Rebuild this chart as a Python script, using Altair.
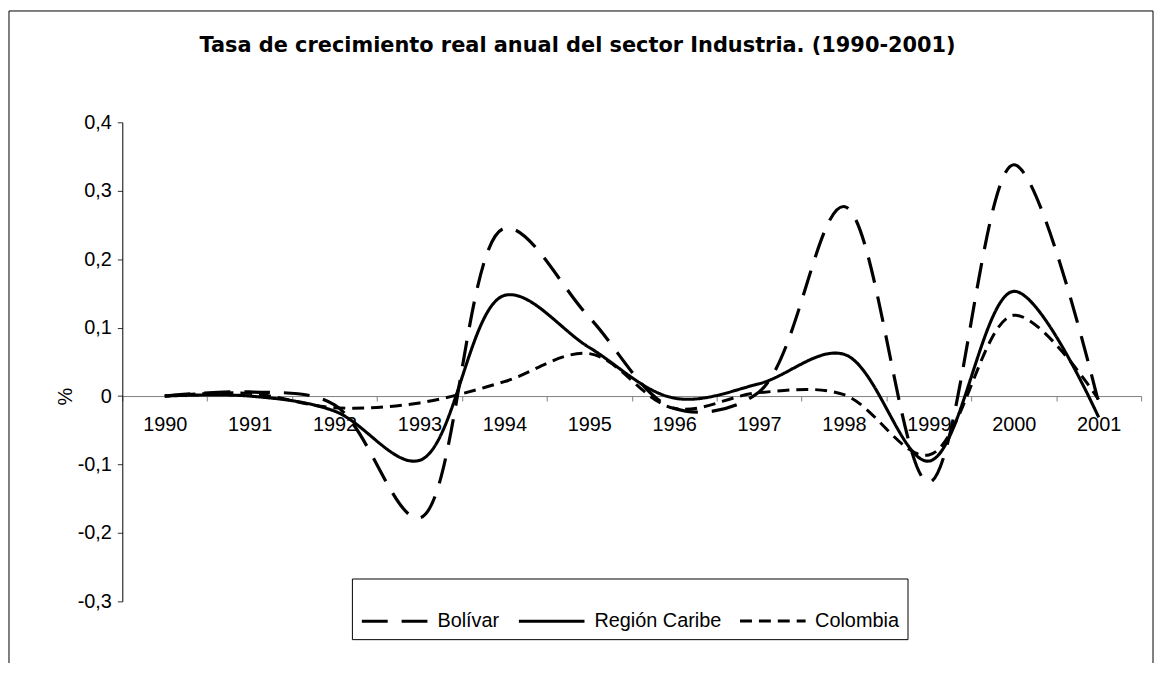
import altair as alt
import pandas as pd

years = ["1990", "1991", "1992", "1993", "1994", "1995", "1996", "1997", "1998", "1999", "2000", "2001"]
bolivar = [0.0, 0.006, -0.013, -0.178, 0.245, 0.115, -0.018, 0.006, 0.277, -0.126, 0.338, -0.010]
caribe = [0.0, 0.0, -0.022, -0.094, 0.147, 0.071, -0.003, 0.018, 0.061, -0.095, 0.153, -0.031]
colombia = [0.0, 0.004, -0.017, -0.010, 0.021, 0.062, -0.018, 0.005, 0.002, -0.086, 0.118, -0.005]
series_names = ["Bolívar", "Región Caribe", "Colombia"]
y_ticks = [-0.3, -0.2, -0.1, 0.0, 0.1, 0.2, 0.3, 0.4]
title_text = "Tasa de crecimiento real anual del sector Industria. (1990-2001)"

rows = []
for name, vals in zip(series_names, [bolivar, caribe, colombia]):
    for yr, v in zip(years, vals):
        rows.append({"Año": yr, "Serie": name, "Valor": v})
df = pd.DataFrame(rows)
title_df = pd.DataFrame({"t": [title_text]})

W, H = 1025, 482
ymin, ymax = y_ticks[0], y_ticks[-1]
x_axis_offset = -H * (0 - ymin) / (ymax - ymin)

lines = alt.Chart(df).mark_line(interpolate="catmull-rom", color="black").encode(
    x=alt.X(
        "Año:O",
        bandPosition=0.5,
        scale=alt.Scale(type="band", paddingInner=0, paddingOuter=0),
        axis=alt.Axis(
            title=None,
            tickBand="extent",
            domainColor="#808080",
            tickColor="#808080",
            tickSize=5,
            labelPadding=14,
            labelAngle=0,
            labelFont="Liberation Sans",
            labelFontSize=20,
            labelColor="black",
            offset=x_axis_offset,
            grid=False,
        ),
    ),
    y=alt.Y(
        "Valor:Q",
        scale=alt.Scale(domain=[ymin, ymax], nice=False, zero=False),
        axis=alt.Axis(
            title="%",
            values=y_ticks,
            labelExpr="datum.value == 0 ? '0' : replace(replace(format(datum.value, '.1f'), '.', ','), '\u2212', '-')",
            domainColor="black",
            tickColor="#333333",
            tickSize=5,
            labelPadding=6,
            labelFont="Liberation Sans",
            labelFontSize=20,
            labelColor="black",
            titleFont="Liberation Sans",
            titleFontSize=20,
            titleFontWeight="normal",
            titleColor="black",
            titleX=-57,
            titleY=H * ymax / (ymax - ymin),
            titleAngle=270,
            titleAlign="center",
            titleBaseline="middle",
            grid=False,
        ),
    ),
    strokeDash=alt.StrokeDash(
        "Serie:N",
        sort=series_names,
        scale=alt.Scale(domain=series_names, range=[[26, 14], [1, 0], [12, 7]]),
        legend=alt.Legend(
            title=None,
            orient="none",
            legendX=231,
            legendY=459,
            direction="horizontal",
            symbolType="stroke",
            symbolSize=4356,
            symbolStrokeWidth=3,
            symbolStrokeColor="black",
            labelFont="Liberation Sans",
            labelFontSize=20,
            labelColor="black",
            labelOffset=8,
            columnPadding=12,
            padding=8,
            strokeColor="black",
            fillColor="white",
        ),
    ),
    strokeWidth=alt.StrokeWidth(
        "Serie:N",
        sort=series_names,
        scale=alt.Scale(domain=series_names, range=[3.2, 3, 1.6]),
        legend=None,
    ),
)

title = alt.Chart(title_df).mark_text(
    font="DejaVu Sans", fontSize=21, fontWeight="bold", color="black",
    align="center", baseline="middle",
).encode(x=alt.value(458), y=alt.value(-77), text="t:N")

frame_df = pd.DataFrame({"k": [0]})
frame_left = alt.Chart(frame_df).mark_rule(color="black", strokeWidth=1).encode(
    x=alt.value(-114), y=alt.value(-112), y2=alt.value(600)
)
frame_top = alt.Chart(frame_df).mark_rule(color="black", strokeWidth=1).encode(
    x=alt.value(-114), x2=alt.value(1037), y=alt.value(-112)
)
frame_right = alt.Chart(frame_df).mark_rule(color="black", strokeWidth=1).encode(
    x=alt.value(1037), y=alt.value(-112), y2=alt.value(600)
)

chart = alt.layer(frame_left, frame_top, frame_right, title, lines).properties(
    width=W,
    height=H,
    background="white",
    padding={"left": 115, "top": 113, "right": 14, "bottom": 60},
    autosize=alt.AutoSizeParams(type="none"),
).configure_view(stroke="transparent", strokeWidth=0)

chart.save("out.html", embed_options={"renderer": "svg", "actions": False})
